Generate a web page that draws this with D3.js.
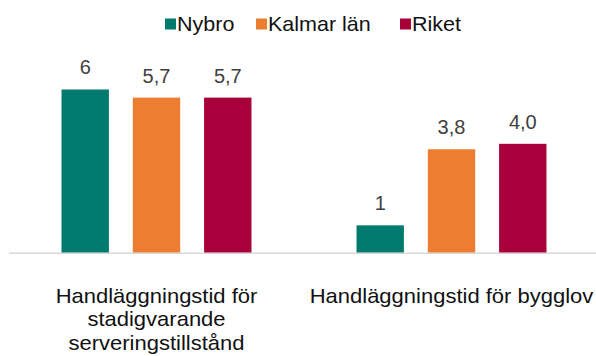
<!DOCTYPE html>
<html>
<head>
<meta charset="utf-8">
<script src="https://cdn.jsdelivr.net/npm/d3@7"></script>
<style>
  html, body { margin: 0; padding: 0; background: #fff; }
  svg { display: block; font-family: "Liberation Sans", Arial, sans-serif; }
</style>
</head>
<body>
<svg id="chart" width="596" height="356"></svg>
<script>
// Categories (each label split into display lines)
const categories = ["serveringstillstånd", "bygglov"];
const categoryLines = [
  ["Handläggningstid för", "stadigvarande", "serveringstillstånd"],
  ["Handläggningstid för bygglov"]
];

// Series
const seriesNames = ["Nybro", "Kalmar län", "Riket"];
const seriesColors = ["#007A6E", "#ED7D31", "#A8003A"];
const seriesDecimals = [0, 1, 1];

// Values per series, in category order
const nybro = [6, 1];
const kalmar = [5.7, 3.8];
const riket = [5.7, 4.0];
const seriesValues = [nybro, kalmar, riket];

const svg = d3.select("#chart");

const x0 = d3.scaleBand()
  .domain(categories)
  .range([9, 599])
  .paddingInner(0.356)
  .paddingOuter(0.178);

const x1 = d3.scaleBand()
  .domain(seriesNames)
  .range([0, x0.bandwidth()])
  .paddingInner(0.335)
  .paddingOuter(0);

const y = d3.scaleLinear()
  .domain([0, 7])
  .range([252.5, 62.3]);

const fmt = (v, d) => v.toFixed(d).replace(".", ",");

// Flat list of bar records
const bars = [];
seriesNames.forEach((s, si) => {
  categories.forEach((c, ci) => {
    bars.push({ series: s, cat: c, value: seriesValues[si][ci], color: seriesColors[si], dec: seriesDecimals[si] });
  });
});

// Baseline
svg.append("line")
  .attr("x1", 9).attr("x2", 596)
  .attr("y1", y(0) + 0.8).attr("y2", y(0) + 0.8)
  .attr("stroke", "#d9d9d9")
  .attr("stroke-width", 1.6);

// Bars
svg.append("g").selectAll("rect")
  .data(bars)
  .join("rect")
  .attr("x", d => x0(d.cat) + x1(d.series))
  .attr("y", d => y(d.value))
  .attr("width", x1.bandwidth())
  .attr("height", d => y(0) - y(d.value))
  .attr("fill", d => d.color);

// Value labels
svg.append("g").selectAll("text")
  .data(bars)
  .join("text")
  .attr("x", d => x0(d.cat) + x1(d.series) + x1.bandwidth() / 2)
  .attr("y", d => y(d.value) - 15)
  .attr("text-anchor", "middle")
  .attr("font-size", 20)
  .attr("fill", "#404040")
  .text(d => fmt(d.value, d.dec));

// Category labels (slightly widened type)
const catG = svg.append("g");
categories.forEach((c, ci) => {
  const cx = x0(c) + x0.bandwidth() / 2;
  const t = catG.append("text")
    .attr("transform", `translate(${cx},302.5) scale(1.1,1)`)
    .attr("text-anchor", "middle")
    .attr("font-size", 20)
    .attr("fill", "#111");
  categoryLines[ci].forEach((line, li) => {
    t.append("tspan")
      .attr("x", 0)
      .attr("dy", li === 0 ? 0 : 24)
      .text(line);
  });
});

// Legend
const legendX = [165, 256, 400];
const legend = svg.append("g");
seriesNames.forEach((s, i) => {
  legend.append("rect")
    .attr("x", legendX[i]).attr("y", 18.5)
    .attr("width", 11).attr("height", 11)
    .attr("fill", seriesColors[i]);
  legend.append("text")
    .attr("transform", `translate(${legendX[i] + 12},30.5) scale(1.05,1)`)
    .attr("font-size", 20.5)
    .attr("fill", "#111")
    .text(s);
});
</script>
</body>
</html>
